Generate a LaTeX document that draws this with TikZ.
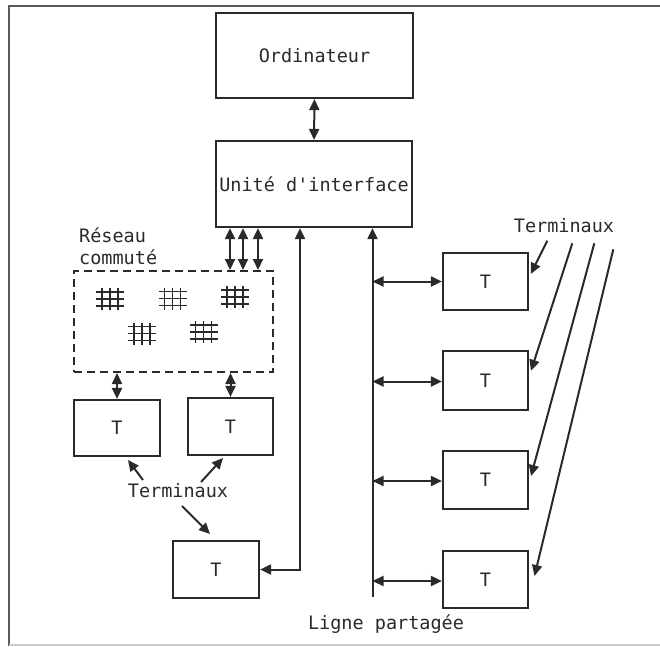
\documentclass[tikz,border=0pt]{standalone}
\usepackage{fontspec}
\newfontfamily\mono{DejaVu Sans Mono}
\usetikzlibrary{arrows.meta,calc}
\definecolor{ink}{HTML}{2A2A2A}
\tikzset{
  txt/.style={font=\mono\fontsize{18.5}{22}\selectfont, text=ink, inner sep=0pt},
  box/.style={txt, draw=ink, line width=2.2pt, minimum width=#1},
  box/.default=86pt,
  netbox/.style={draw=ink, line width=2pt, dash pattern=on 8pt off 5pt, minimum width=199pt, minimum height=101pt},
  con/.style={draw=ink, line width=2pt},
  tip/.tip={Triangle[length=11pt,width=10pt]},
  dbl/.style={con, tip-tip},
  sgl/.style={con, -tip},
  xgrid/.pic={
    \foreach \d in {-7,0,7} {\draw[con,line width=1.8pt] (-14,\d) -- (14,\d);}
    \foreach \d in {-8,0,8} {\draw[con,line width=1.8pt] (\d,-11) -- (\d,11);}
  }
}
\begin{document}
\begin{tikzpicture}[x=1pt,y=-1pt]
\useasboundingbox (0,0) rectangle (660,646);
% frame
\draw[line width=2pt, black!65] (660,6) -- (9,6) -- (9,646);
\draw[line width=1.2pt, black!20] (9,645) -- (660,645);

% main boxes
\node[box=197pt, minimum height=85pt] (ord) at (314.5,55.5) {Ordinateur};
\node[box=196pt, minimum height=86pt] (uni) at (314,184) {Unité d'interface};

% switched network
\node[netbox] (net) at (173.5,321.5) {};
\node[txt, anchor=north west, align=left] (res) at (79,227) {Réseau\\commuté};
\pic at (110,299) {xgrid};
\pic at (172.5,298.5) {xgrid};
\pic at (235,297) {xgrid};
\pic at (142,333.5) {xgrid};
\pic at (203.5,332) {xgrid};

% terminals
\node[box, minimum height=56pt] (t1) at (117,428) {T};
\node[box=85pt, minimum height=57pt] (t2) at (230.5,426.5) {T};
\node[box, minimum height=57pt] (t3) at (216,569.5) {T};
\node[box=85pt, minimum height=57pt] (ra) at (485.5,281.5) {T};
\node[box=85pt, minimum height=59pt] (rb) at (485.5,380.5) {T};
\node[box=85pt, minimum height=58pt] (rc) at (485.5,480) {T};
\node[box=85pt, minimum height=57pt] (rd) at (485.5,579.5) {T};

% labels
\node[txt] (termL) at (178,491) {Terminaux};
\node[txt] (termR) at (564,226) {Terminaux};
\node[txt] (ligne) at (386,624) {Ligne partagée};

% connectors
\draw[dbl] (ord.south) -- (uni.north);
\coordinate (a1) at ([xshift=-84pt]uni.south);
\coordinate (a2) at ([xshift=-71pt]uni.south);
\coordinate (a3) at ([xshift=-56pt]uni.south);
\coordinate (a4) at ([xshift=-14pt]uni.south);
\coordinate (a5) at ([xshift=58.5pt]uni.south);
\draw[dbl] (a1) -- (a1 |- net.north);
\draw[dbl] (a2) -- (a2 |- net.north);
\draw[dbl] (a3) -- (a3 |- net.north);
\draw[dbl] (t1.north |- net.south) -- (t1.north);
\draw[dbl] (t2.north |- net.south) -- (t2.north);
\draw[dbl] (a4) |- (t3.east);
\coordinate (sb) at (372.5,597);
\draw[sgl] (sb) -- (a5);
\draw[dbl] (ra.west -| sb) -- (ra.west);
\draw[dbl] ([yshift=-1pt]rb.west -| sb) -- ([yshift=-1pt]rb.west);
\draw[dbl] ([yshift=-1pt]rc.west -| sb) -- ([yshift=-1pt]rc.west);
\draw[dbl] ([yshift=-1.5pt]rd.west -| sb) -- ([yshift=-1.5pt]rd.west);

% label pointers (left)
\coordinate (pl1) at (143,480);
\coordinate (pl2) at (201,482);
\coordinate (pl3) at (182,506);
\draw[sgl] (pl1) -- (128,460);
\draw[sgl] (pl2) -- (223,458);
\draw[sgl] (pl3) -- (210,534);

% label pointers (right)
\coordinate (pr1) at (547.3,240.7);
\coordinate (pr2) at (572.3,243.3);
\coordinate (pr3) at (594.3,243.3);
\coordinate (pr4) at (613.3,249.3);
\draw[sgl] (pr1) -- (530.7,274);
\draw[sgl] (pr2) -- (531,370.8);
\draw[sgl] (pr3) -- (531,476);
\draw[sgl] (pr4) -- (534.5,576);
\end{tikzpicture}
\end{document}
